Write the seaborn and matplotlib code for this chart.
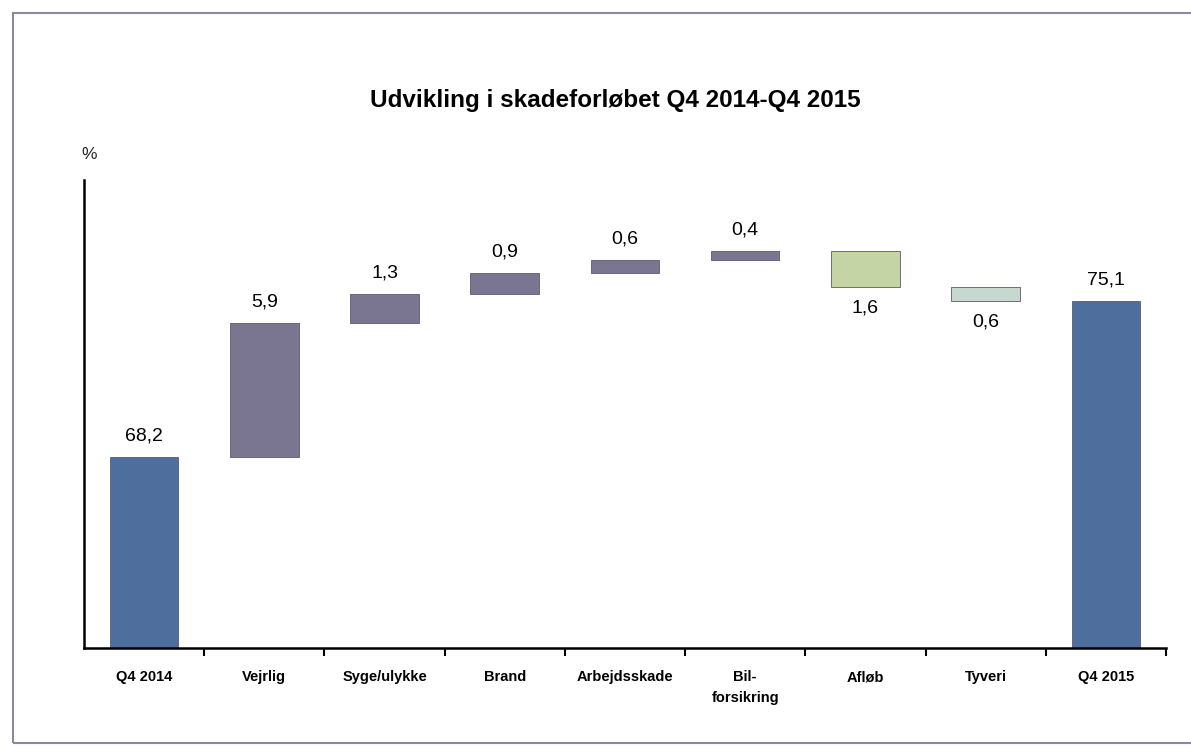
import matplotlib
matplotlib.use("Agg")
import matplotlib.pyplot as plt
from matplotlib.patches import Rectangle
import seaborn as sns
import numpy as np
import pandas as pd

# ---- data ----
categories = ["Q4 2014", "Vejrlig", "Syge/ulykke", "Brand", "Arbejdsskade",
              "Bil-\nforsikring", "Afløb", "Tyveri", "Q4 2015"]
start_value = 68.2
changes = [5.9, 1.3, 0.9, 0.6, 0.4, -1.6, -0.6]
end_value = 75.1
bar_colors = ["#4e6e9e", "#7a7590", "#7a7590", "#7a7590", "#7a7590",
              "#7a7590", "#c4d4a4", "#c7d9cf", "#4e6e9e"]

# ---- waterfall geometry from the data ----
heights, bottoms = [start_value], [0.0]
level = start_value
for c in changes:
    if c >= 0:
        bottoms.append(level)
        heights.append(c)
    else:
        bottoms.append(level + c)
        heights.append(-c)
    level += c
heights.append(end_value)
bottoms.append(0.0)
signed = [start_value] + changes + [end_value]

df = pd.DataFrame({"cat": categories, "h": heights})

sns.set_theme(style="white")
plt.rcParams["font.family"] = ["Liberation Sans", "DejaVu Sans"]

fig = plt.figure(figsize=(11.91, 7.48), dpi=100)
ax = fig.add_axes([0.0705, 0.1337, 0.9085, 0.6253])

sns.barplot(data=df, x="cat", y="h", bottom=bottoms, width=0.57,
            color="#7a7590", ax=ax, saturation=1)
for p, col in zip(ax.patches, bar_colors):
    p.set_facecolor(col)
    p.set_edgecolor("#5a5a70")
    p.set_linewidth(0.6)

ax.set_ylim(59.8, 80.4)
ax.set_xlim(-0.5, len(categories) - 0.5)

# value labels
for i, (v, b, h) in enumerate(zip(signed, bottoms, heights)):
    txt = f"{abs(v):.1f}".replace(".", ",")
    if v >= 0:
        ax.text(i, b + h + 0.55, txt, ha="center", va="bottom",
                fontsize=14, color="black")
    else:
        ax.text(i, b - 0.55, txt, ha="center", va="top",
                fontsize=14, color="black")

# axes styling
for s in ["top", "right"]:
    ax.spines[s].set_visible(False)
for s in ["left", "bottom"]:
    ax.spines[s].set_color("black")
    ax.spines[s].set_linewidth(1.8)
ax.set_yticks([])
ax.set_xlabel("")
ax.set_ylabel("")
ax.set_xticks(range(len(categories)))
ax.set_xticklabels(categories, fontsize=10.5, fontweight="bold",
                   linespacing=1.6, color="black")
ax.set_xticks(np.arange(0.5, len(categories), 1.0), minor=True)
ax.tick_params(axis="x", which="major", bottom=True, length=0, pad=16)
ax.tick_params(axis="x", which="minor", bottom=True, length=6, width=1.5,
               color="black", direction="out")

fig.text(0.517, 0.866, "Udvikling i skadeforløbet Q4 2014-Q4 2015",
         ha="center", va="center", fontsize=17.5, fontweight="bold",
         color="black")
fig.text(0.068, 0.793, "%", ha="left", va="center", fontsize=12.5,
         color="#222222")

# page frame (scan border)
fig.patches.append(Rectangle((0.011, 0.007), 1.2, 0.975,
                             transform=fig.transFigure, fill=False,
                             edgecolor="#8a8a9a", linewidth=1.5))

fig.savefig("out.png", dpi=100, facecolor="white")
